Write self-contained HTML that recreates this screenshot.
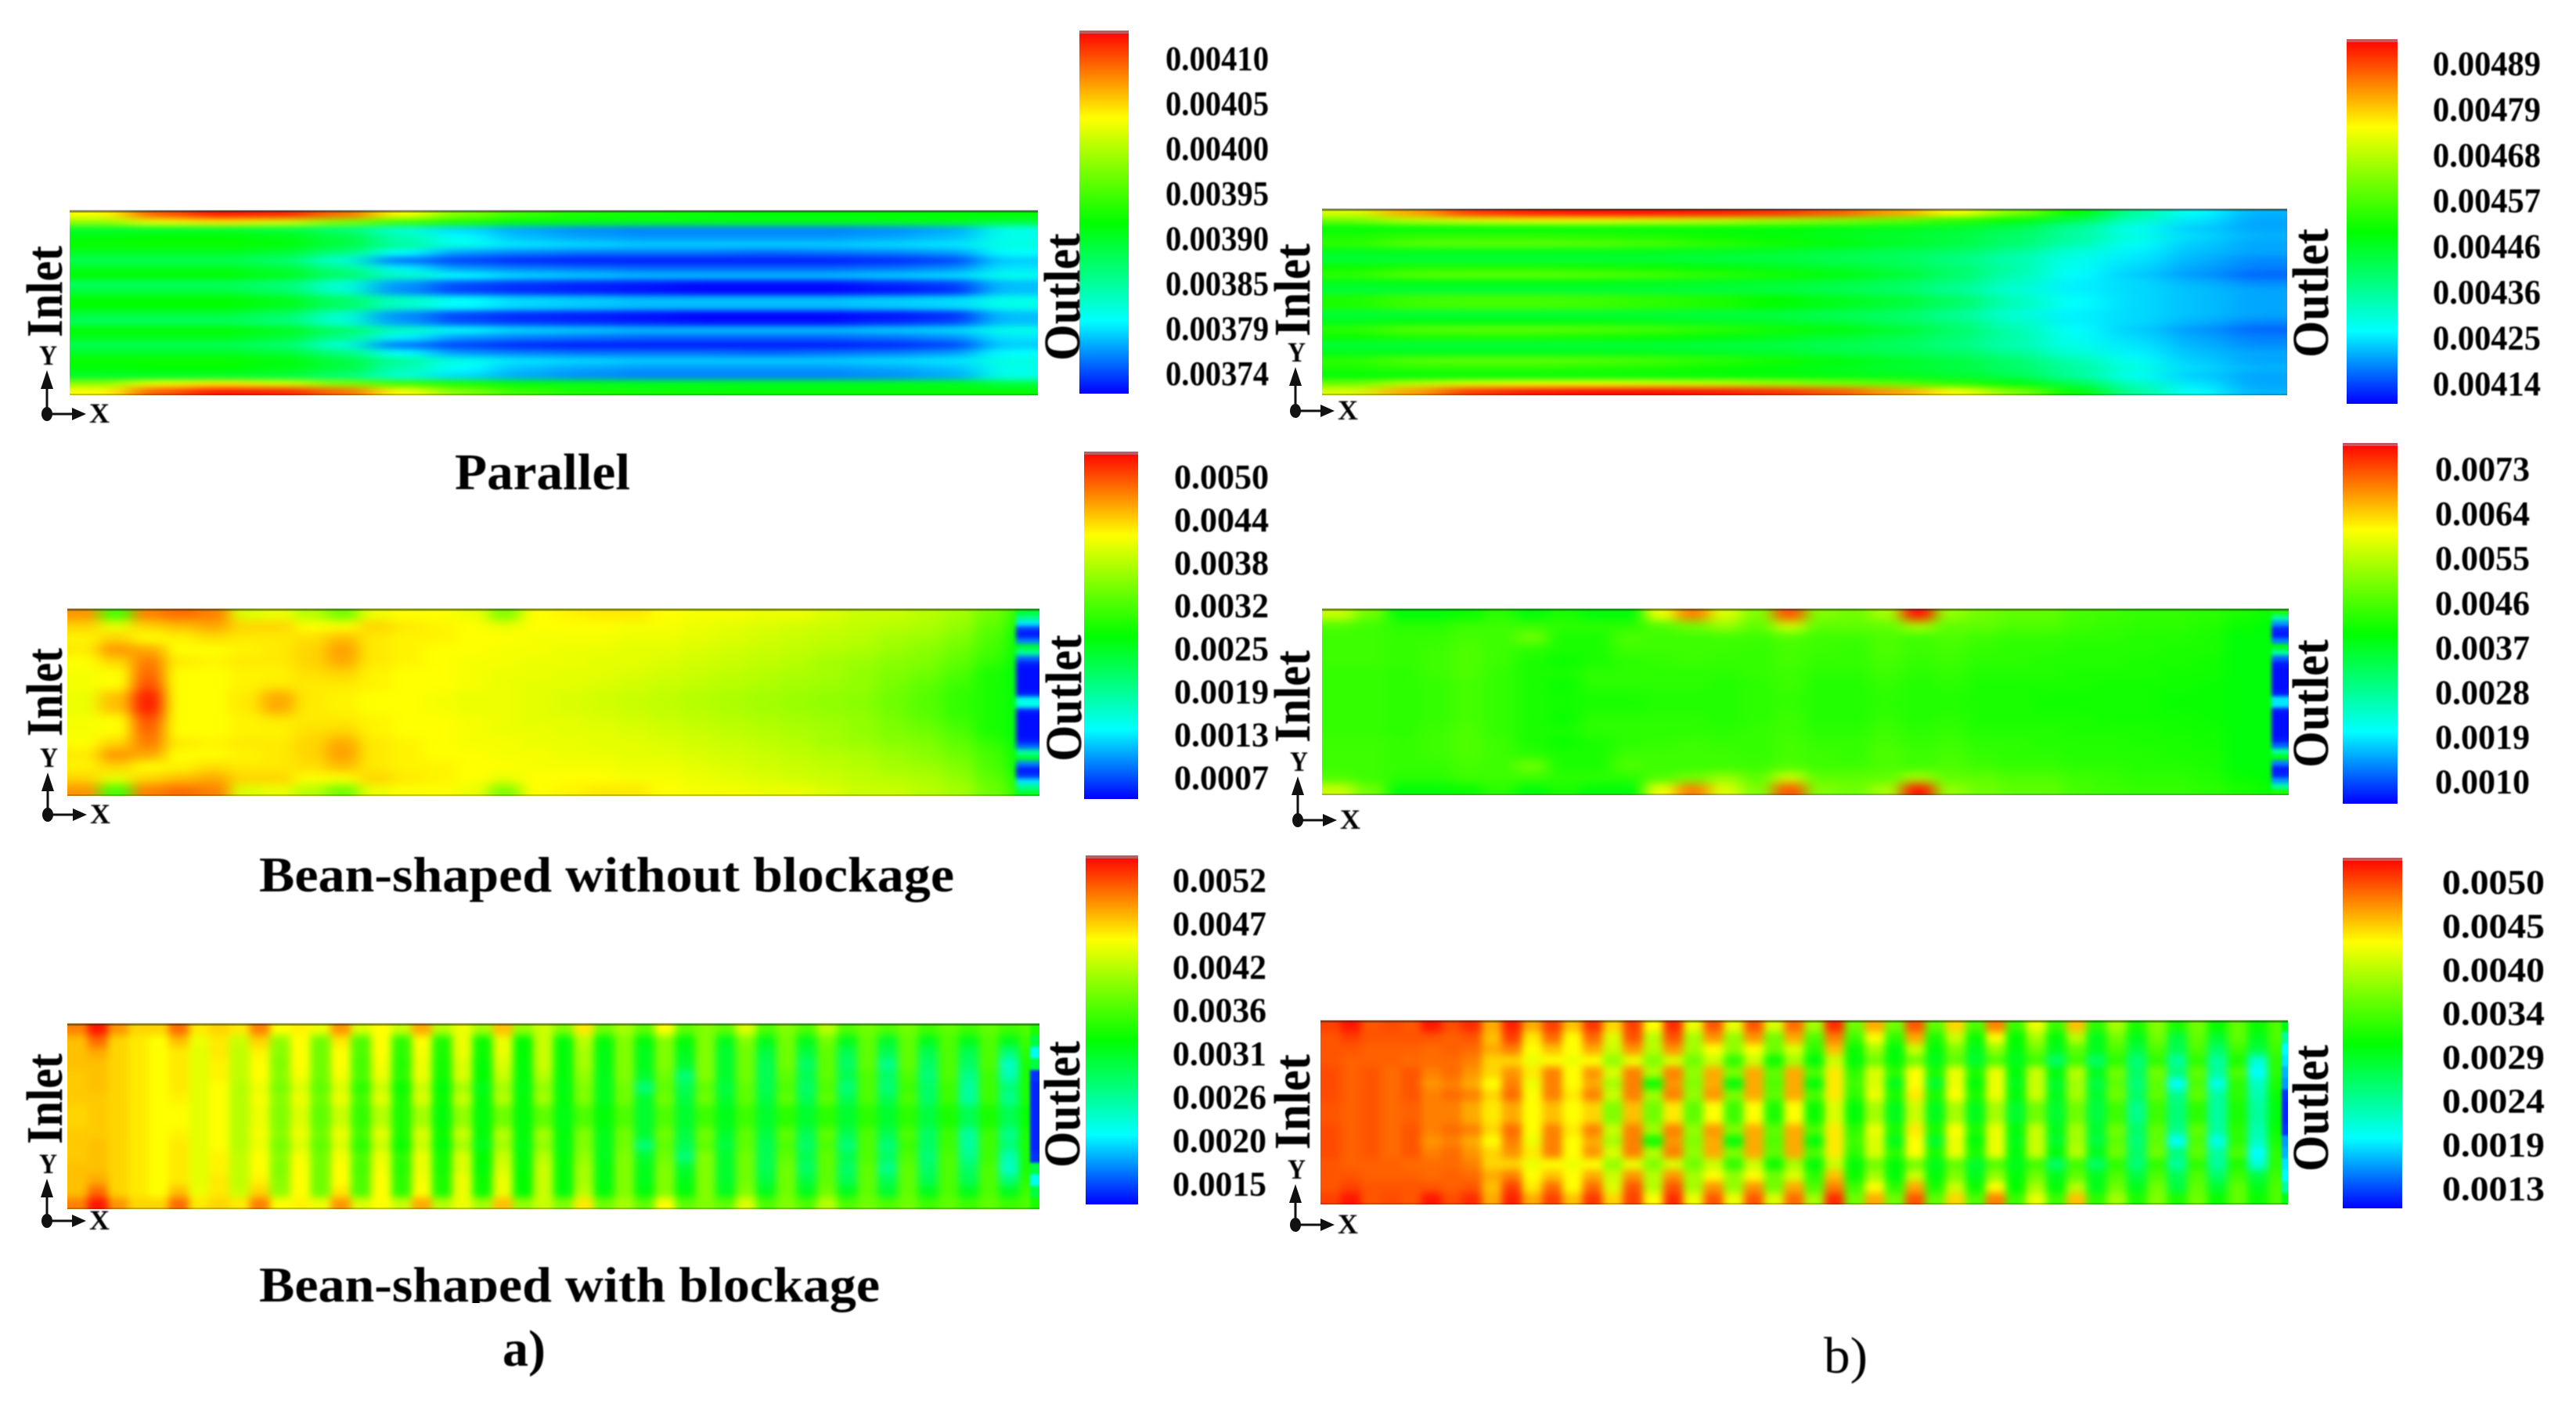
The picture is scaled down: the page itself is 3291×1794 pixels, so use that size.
<!DOCTYPE html>
<html lang="en">
<head>
<meta charset="utf-8">
<title>Velocity contour comparison</title>
<style>
html,body{margin:0;padding:0;background:#fff;}
svg{display:block;font-family:"Liberation Serif",serif;}
</style>
</head>
<body>
<svg id="figure" xmlns="http://www.w3.org/2000/svg" width="3291" height="1794" viewBox="0 0 3291 1794">
<defs>
<linearGradient id="cbGrad" x1="0" y1="1" x2="0" y2="0"></linearGradient>
<filter id="soft" x="-2%" y="-2%" width="104%" height="104%" color-interpolation-filters="sRGB"><feGaussianBlur stdDeviation="0.7"/></filter>
</defs>
<rect x="0" y="0" width="3291" height="1794" fill="#fff"/>
<g id="plots"></g>
<g id="texts" filter="url(#soft)" fill="#000">
<text x="581" y="625" font-size="66" font-weight="bold" textLength="224" lengthAdjust="spacingAndGlyphs">Parallel</text>
<text x="331" y="1139" font-size="64" font-weight="bold" textLength="888" lengthAdjust="spacingAndGlyphs">Bean-shaped without blockage</text>
<text x="331" y="1663" font-size="64" font-weight="bold" textLength="793" lengthAdjust="spacingAndGlyphs">Bean-shaped with blockage</text>
<text x="642" y="1745" font-size="66" font-weight="bold" textLength="55" lengthAdjust="spacingAndGlyphs">a)</text>
<text x="2330" y="1754" font-size="66" textLength="56" lengthAdjust="spacingAndGlyphs">b)</text>
</g>
<rect x="495" y="1665" width="190" height="20" fill="#fff"/>
</svg>
<script>
/* Contour levels: percent position on each panel's colour bar.
   Each field holds the upper half of the channel; the lower half mirrors it. */
const fieldParallelA = [
[76,92,98,97,90,76,62,54,50,49,48,47,47,47,47,47],
[64,74,78,72,62,54,50,46,45,44,44,44,44,44,44,40],
[42,42,42,40,34,24,17,13,11,10,10,10,10,11,13,22],
[46,47,47,45,40,28,20,15,13,12,12,12,12,13,15,22],
[48,48,48,46,40,30,22,18,17,16,16,16,16,17,18,23],
[43,43,43,41,33,20,12,10,9,9,9,8,9,10,12,20],
[38,38,38,35,24,9,5,3,2,2,2,2,2,3,5,16],
[44,44,44,41,32,19,12,10,9,8,8,8,8,9,11,18],
[47,47,47,44,36,26,20,17,16,15,15,15,15,16,17,22],
[37,37,37,34,24,12,6,4,3,2,1,1,1,3,5,15],
[40,40,40,36,25,11,5,3,2,1,0,0,0,1,3,15],
[47,47,47,44,36,26,20,17,16,15,15,15,15,16,17,22]
];
const fieldParallelB = [
[72,85,95,98,99,99,98,96,92,85,76,62,47,30,20,14],
[60,68,72,74,74,72,70,66,62,58,52,46,38,26,18,13],
[46,46,46,46,46,46,46,46,45,44,42,38,30,21,16,13],
[50,52,52,52,51,50,48,46,44,42,40,36,30,23,17,14],
[52,57,58,58,57,55,52,49,46,43,40,35,28,21,16,13],
[44,44,44,44,44,44,43,42,40,38,36,31,24,19,15,13],
[41,41,41,41,41,41,40,40,38,37,33,28,22,18,14,11],
[48,50,50,50,49,48,46,44,42,39,35,29,21,17,13,10],
[52,57,58,58,57,55,52,49,46,42,36,28,20,16,12,8],
[44,45,45,45,45,44,43,42,40,37,33,26,19,17,14,11],
[41,41,41,41,41,41,40,40,38,36,31,24,19,17,15,13],
[50,54,55,55,54,52,50,47,44,41,36,27,20,17,15,13]
];
const fieldNoBlockageA = [
[86,55,88,90,88,72,74,68,60,74,76,76,74,62,76,77,78,78,76,75,75,74,74,72,70,70,68,66,60,52],
[80,74,80,82,84,80,80,76,76,80,78,77,76,74,76,76,76,75,75,74,73,72,71,70,69,68,67,64,58,50],
[77,80,76,77,79,78,78,79,82,78,77,77,76,76,75,75,75,74,74,73,72,71,70,69,68,66,65,62,56,48],
[78,86,84,76,76,77,78,80,85,78,77,76,76,75,75,74,74,73,73,72,71,70,69,68,67,65,63,60,55,48],
[76,80,88,78,77,78,78,80,84,78,77,76,75,75,74,74,73,73,72,71,70,69,68,66,65,63,62,58,53,46],
[75,76,90,76,76,77,77,79,80,77,76,76,75,74,74,73,73,72,71,70,69,68,67,66,64,62,60,56,50,46],
[75,76,92,76,76,77,78,78,78,77,76,76,75,74,73,73,72,71,70,69,68,67,66,65,64,61,58,54,50,46],
[74,82,97,76,76,78,84,78,77,76,76,75,74,74,73,72,71,70,69,68,67,66,65,64,63,60,57,53,50,46]
];
const fieldNoBlockageB = [
[70,60,46,46,48,52,46,50,46,46,74,88,72,62,92,62,60,66,98,64,60,58,58,55,54,53,53,52,50,48],
[56,54,52,52,54,54,54,52,52,52,56,60,64,58,70,58,58,58,66,58,58,56,56,54,53,52,52,51,48,46],
[54,54,53,53,55,54,60,50,50,56,54,54,54,54,56,54,54,56,54,56,54,53,53,52,52,51,51,50,46,46],
[54,54,53,54,56,54,52,50,50,54,54,54,54,53,55,54,53,56,54,55,53,52,52,51,51,51,50,50,46,46],
[54,54,53,54,56,54,50,48,50,52,53,54,53,53,55,53,53,55,53,54,52,52,51,51,51,50,50,49,46,46],
[53,53,52,54,56,53,50,50,52,52,52,52,52,53,54,52,52,54,52,53,51,51,51,50,50,50,49,49,46,46],
[53,53,52,53,55,53,50,48,52,52,52,52,51,52,54,51,51,53,51,52,50,50,50,50,49,49,49,48,46,46],
[53,53,52,53,55,53,50,49,50,50,51,51,51,52,53,51,51,52,51,51,50,50,49,49,49,49,48,48,46,46]
];
const fieldBlockageA = [
[88,98,86,80,80,90,78,80,78,88,76,77,74,86,72,76,70,84,68,74,66,82,64,70,62,78,60,66,58,76,58,62,58,72,56,62,56,68,56,60,56,60,54,58,54,58,54,56],
[82,90,80,78,76,82,74,78,70,80,64,76,60,78,56,76,52,76,50,74,48,74,47,70,46,68,46,62,46,62,46,62,44,62,44,60,44,60,44,58,42,58,44,56,44,56,44,54],
[82,84,80,78,76,78,73,78,69,77,63,76,60,76,56,76,52,75,50,74,48,74,47,70,46,66,45,62,44,62,44,62,42,60,40,60,40,58,38,58,38,58,38,56,38,56,34,52],
[82,82,80,78,76,78,73,77,69,76,62,76,60,76,55,75,51,74,49,72,46,72,46,70,46,66,45,62,44,62,42,62,42,60,38,60,36,58,36,58,32,58,36,56,36,56,26,50],
[81,82,80,78,76,78,73,77,69,76,63,75,60,75,56,74,52,74,49,72,47,70,46,68,46,64,44,62,42,60,34,62,42,60,38,58,38,58,38,56,36,56,34,56,32,54,28,50],
[81,82,80,78,76,78,73,76,68,74,61,72,58,72,52,70,48,70,46,66,44,66,45,64,45,62,44,60,34,58,38,58,40,58,38,56,36,56,34,56,34,54,36,54,30,54,34,50],
[81,81,80,78,76,77,73,76,68,75,63,74,60,74,55,73,50,72,48,70,46,68,46,66,46,62,44,60,42,60,40,60,42,58,40,58,38,58,38,56,38,56,36,54,30,54,32,50],
[80,81,80,78,76,76,73,76,68,74,62,72,58,70,53,68,50,66,46,64,46,60,46,58,45,56,46,56,42,56,42,54,44,54,42,52,42,52,42,52,42,52,40,50,38,50,38,48]
];
const fieldBlockageB = [
[94,98,92,93,92,98,93,96,84,97,84,94,82,95,80,94,76,96,74,92,74,92,72,90,66,96,60,84,60,92,58,80,56,88,54,74,54,82,52,66,50,62,50,60,48,58,48,56],
[92,94,92,92,92,92,91,92,82,94,78,90,76,90,72,92,68,92,66,86,64,86,60,84,56,88,54,76,52,84,50,70,48,76,47,66,46,68,44,60,44,60,40,58,42,58,44,56],
[92,92,91,91,91,90,91,90,84,88,76,82,76,84,70,86,68,86,66,76,64,76,60,72,52,82,48,66,46,70,46,62,44,64,46,60,44,58,44,56,40,56,38,56,36,54,40,54],
[92,91,91,91,90,90,90,88,80,80,74,76,74,76,64,74,62,72,60,70,52,70,48,66,46,70,46,60,46,60,44,58,42,56,44,54,36,54,36,52,34,52,30,52,30,50,24,52],
[93,91,92,90,92,88,90,86,80,86,78,88,76,86,72,88,68,88,64,84,62,84,58,84,56,78,52,72,52,76,50,74,50,74,46,70,46,68,44,60,36,60,34,58,30,56,20,52],
[93,91,92,90,92,86,88,84,76,88,74,88,76,84,66,88,48,86,62,84,46,84,56,84,46,78,54,72,44,76,42,74,46,74,44,70,42,66,40,58,34,58,20,56,22,52,26,50],
[93,91,92,90,92,88,90,88,80,90,76,88,78,88,70,88,66,88,64,86,62,84,58,84,56,78,52,74,50,78,50,76,50,74,46,70,44,66,42,60,36,58,32,58,30,52,28,48],
[92,91,92,90,91,88,88,84,78,84,76,82,76,80,62,82,60,78,58,76,54,76,50,76,48,72,46,66,44,70,44,66,44,66,42,60,42,60,40,54,32,54,34,52,30,50,30,46]
];

/* Levels along the narrow outlet slits at the right edge (upper half, mirrored). */
const outletNoBlockageA = [42,32,18,4,2,10,42,30,8,2,1,1,1,1,2,22];
const outletNoBlockageB = [50,30,12,3,2,10,45,30,8,2,1,1,1,1,2,18];
const outletBlockageA = [50,40,22,40,4,3,3,3];
const outletBlockageB = [44,30,20,18,14,12,4,3];

const ticksParallelA = ["0.00410","0.00405","0.00400","0.00395","0.00390","0.00385","0.00379","0.00374"];
const ticksParallelB = ["0.00489","0.00479","0.00468","0.00457","0.00446","0.00436","0.00425","0.00414"];
const ticksNoBlockageA = ["0.0050","0.0044","0.0038","0.0032","0.0025","0.0019","0.0013","0.0007"];
const ticksNoBlockageB = ["0.0073","0.0064","0.0055","0.0046","0.0037","0.0028","0.0019","0.0010"];
const ticksBlockageA = ["0.0052","0.0047","0.0042","0.0036","0.0031","0.0026","0.0020","0.0015"];
const ticksBlockageB = ["0.0050","0.0045","0.0040","0.0034","0.0029","0.0024","0.0019","0.0013"];

/* Layout of the six panels (geometry only). */
const panelLayout = [
{key:'parallel-a',field:fieldParallelA,ticks:ticksParallelA,x0:89,x1:1326,y0:269,y1:505,sx:22,sy:4,cb:[1379,1442,39,503],tickX:1489,tickW:132,tickTop:75.5,tickStep:57.5,inlet:[79,431,117],outlet:[1379,461,163],origin:[60,529],up:56},
{key:'parallel-b',field:fieldParallelB,ticks:ticksParallelB,x0:1689,x1:2922,y0:267,y1:505,sx:24,sy:4,cb:[2998,3063,50,516],tickX:3108,tickW:138,tickTop:82,tickStep:58.4,inlet:[1673,430,119],outlet:[2974,457,165],origin:[1655,525],up:56},
{key:'no-blockage-a',field:fieldNoBlockageA,ticks:ticksNoBlockageA,strip:outletNoBlockageA,stripW:30,stripBlur:3,x0:86,x1:1328,y0:778,y1:1017,sx:10,sy:6,cb:[1385,1454,577,1021],tickX:1500,tickW:121,tickTop:610,tickStep:54.9,inlet:[79,941,113],outlet:[1381,973,162],origin:[61,1041],up:54},
{key:'no-blockage-b',field:fieldNoBlockageB,ticks:ticksNoBlockageB,strip:outletNoBlockageB,stripW:22,stripBlur:2.5,x0:1689,x1:2924,y0:778,y1:1016,sx:10,sy:6,cb:[2993,3063,566,1027],tickX:3111,tickW:121,tickTop:600,tickStep:57.1,inlet:[1673,949,118],outlet:[2974,981,164],origin:[1658,1048],up:56},
{key:'blockage-a',field:fieldBlockageA,ticks:ticksBlockageA,strip:outletBlockageA,stripW:12,stripBlur:1.5,x0:86,x1:1328,y0:1308,y1:1545,sx:5,sy:5,cb:[1387,1454,1093,1539],tickX:1498,tickW:120,tickTop:1125.5,tickStep:55.4,inlet:[79,1462,116],outlet:[1379,1492,162],origin:[60,1560],up:54},
{key:'blockage-b',field:fieldBlockageB,ticks:ticksBlockageB,strip:outletBlockageB,stripW:8,stripBlur:1.5,x0:1687,x1:2923,y0:1304,y1:1539,sx:5,sy:5,cb:[2993,3069,1096,1544],tickX:3120,tickW:131,tickTop:1128,tickStep:55.9,inlet:[1673,1469,122],outlet:[2974,1497,162],origin:[1655,1565],up:52}
];

/* Colour scale of the bars (style, not data). */
const colourStops = [[0,0,0,255],[20,0,255,255],[33,0,255,128],[47,0,255,0],[62,128,255,0],[76,255,255,0],[88,255,128,0],[100,255,0,0]];

const SVG_NS = 'http://www.w3.org/2000/svg';

function colourOf(level){
  const v = Math.max(0, Math.min(100, level));
  for (let i = 1; i < colourStops.length; i++){
    const a = colourStops[i-1], b = colourStops[i];
    if (v <= b[0]){
      const t = (v - a[0]) / (b[0] - a[0]);
      return 'rgb(' + Math.round(a[1]+(b[1]-a[1])*t) + ',' + Math.round(a[2]+(b[2]-a[2])*t) + ',' + Math.round(a[3]+(b[3]-a[3])*t) + ')';
    }
  }
  return 'rgb(255,0,0)';
}

function make(parent, tag, attrs){
  const el = document.createElementNS(SVG_NS, tag);
  for (const k in attrs) el.setAttribute(k, attrs[k]);
  parent.appendChild(el);
  return el;
}

const grad = document.getElementById('cbGrad');
colourStops.forEach(function(s){
  make(grad, 'stop', {offset: s[0] + '%', 'stop-color': 'rgb(' + s[1] + ',' + s[2] + ',' + s[3] + ')'});
});

const defs = document.querySelector('#figure defs');
const plots = document.getElementById('plots');
const texts = document.getElementById('texts');

function addText(content, x, y, size, len, bold, rotated, name){
  const t = make(texts, 'text', {
    x: rotated ? 0 : x,
    y: rotated ? 0 : y,
    'font-size': size,
    'font-weight': bold ? 'bold' : 'normal',
    textLength: len,
    lengthAdjust: 'spacingAndGlyphs'
  });
  if (rotated) t.setAttribute('transform', 'translate(' + x + ' ' + y + ') rotate(-90)');
  
  
  t.textContent = content;
  return t;
}

function blurFilter(id, p, sx, sy){
  const flt = make(defs, 'filter', {
    id: id, filterUnits: 'userSpaceOnUse',
    x: p.x0 - 80, y: p.y0 - 60, width: p.x1 - p.x0 + 160, height: p.y1 - p.y0 + 120,
    'color-interpolation-filters': 'sRGB'
  });
  make(flt, 'feGaussianBlur', {stdDeviation: sx + ' ' + sy});
}

panelLayout.forEach(function(p){
  const halfRows = p.field.length;
  const totalRows = halfRows * 2;
  const cols = p.field[0].length;
  const xScale = function(c){ return p.x0 + (p.x1 - p.x0) * c / cols; };
  const yScale = function(r){ return p.y0 + (p.y1 - p.y0) * r / totalRows; };
  const clipId = 'clip-' + p.key;
  const filterId = 'blur-' + p.key;

  const clip = make(defs, 'clipPath', {id: clipId});
  make(clip, 'rect', {x: p.x0, y: p.y0, width: p.x1 - p.x0, height: p.y1 - p.y0});
  blurFilter(filterId, p, p.sx, p.sy);

  const outer = make(plots, 'g', {'clip-path': 'url(#' + clipId + ')'});
  
  
  const group = make(outer, 'g', {filter: 'url(#' + filterId + ')'});

  for (let r = 0; r < totalRows; r++){
    const source = r < halfRows ? r : totalRows - 1 - r;
    for (let c = 0; c < cols; c++){
      let x = xScale(c), xEnd = xScale(c + 1), y = yScale(r), yEnd = yScale(r + 1);
      if (c === 0) x -= 70;
      if (c === cols - 1) xEnd += 70;
      if (r === 0) y -= 50;
      if (r === totalRows - 1) yEnd += 50;
      const cell = make(group, 'rect', {
        x: x.toFixed(2), y: y.toFixed(2),
        width: (xEnd - x + 0.6).toFixed(2), height: (yEnd - y + 0.6).toFixed(2),
        fill: colourOf(p.field[source][c])
      });
      
      
    }
  }

  if (p.strip){
    const stripFilterId = 'strip-blur-' + p.key;
    blurFilter(stripFilterId, p, p.stripBlur, p.stripBlur);
    const stripGroup = make(outer, 'g', {filter: 'url(#' + stripFilterId + ')'});
    
    
    const stripRows = p.strip.length * 2;
    const stripY = function(r){ return p.y0 + (p.y1 - p.y0) * r / stripRows; };
    for (let r = 0; r < stripRows; r++){
      const source = r < p.strip.length ? r : stripRows - 1 - r;
      const slit = make(stripGroup, 'rect', {
        x: p.x1 - p.stripW, y: stripY(r).toFixed(2),
        width: p.stripW + 30, height: (stripY(r + 1) - stripY(r) + 0.6).toFixed(2),
        fill: colourOf(p.strip[source])
      });
      
      
    }
  }

  const topEdge = make(plots, 'line', {x1: p.x0, x2: p.x1, y1: p.y0 + 1, y2: p.y0 + 1, stroke: 'rgba(40,50,40,0.55)', 'stroke-width': 3});
  
  
  const bottomEdge = make(plots, 'line', {x1: p.x0, x2: p.x1, y1: p.y1 - 1, y2: p.y1 - 1, stroke: 'rgba(60,60,40,0.3)', 'stroke-width': 2});
  
  

  const bar = make(plots, 'rect', {x: p.cb[0], y: p.cb[2], width: p.cb[1] - p.cb[0], height: p.cb[3] - p.cb[2], fill: 'url(#cbGrad)'});
  
  
  const cap = make(plots, 'rect', {x: p.cb[0], y: p.cb[2], width: p.cb[1] - p.cb[0], height: 4, fill: 'rgba(170,120,130,0.75)'});
  
  

  p.ticks.forEach(function(label, i){
    const tickY = p.tickTop + i * p.tickStep + 14;
    addText(label, p.tickX, tickY, 44, p.tickW, true, false, 'colorbar-tick-label');
  });

  addText('Inlet', p.inlet[0], p.inlet[1], 66, p.inlet[2], true, true, 'inlet-label');
  addText('Outlet', p.outlet[0], p.outlet[1], 66, p.outlet[2], true, true, 'outlet-label');

  const ox = p.origin[0], oy = p.origin[1];
  const triad = make(plots, 'g', {fill: '#111', stroke: 'none'});
  
  
  make(triad, 'rect', {x: ox - 1.5, y: oy - p.up + 16, width: 3, height: p.up - 16});
  make(triad, 'polygon', {points: ox + ',' + (oy - p.up) + ' ' + (ox - 8) + ',' + (oy - p.up + 24) + ' ' + (ox + 8) + ',' + (oy - p.up + 24)});
  make(triad, 'rect', {x: ox, y: oy - 1.5, width: 36, height: 3});
  make(triad, 'polygon', {points: (ox + 50) + ',' + oy + ' ' + (ox + 32) + ',' + (oy - 8) + ' ' + (ox + 32) + ',' + (oy + 8)});
  make(triad, 'ellipse', {cx: ox, cy: oy, rx: 7, ry: 9});

  addText('Y', ox - 10, oy - p.up - 7, 36, 23, true, false, 'y-axis-label');
  addText('X', ox + 54, oy + 11, 36, 26, true, false, 'x-axis-label');
});
</script>
</body>
</html>
